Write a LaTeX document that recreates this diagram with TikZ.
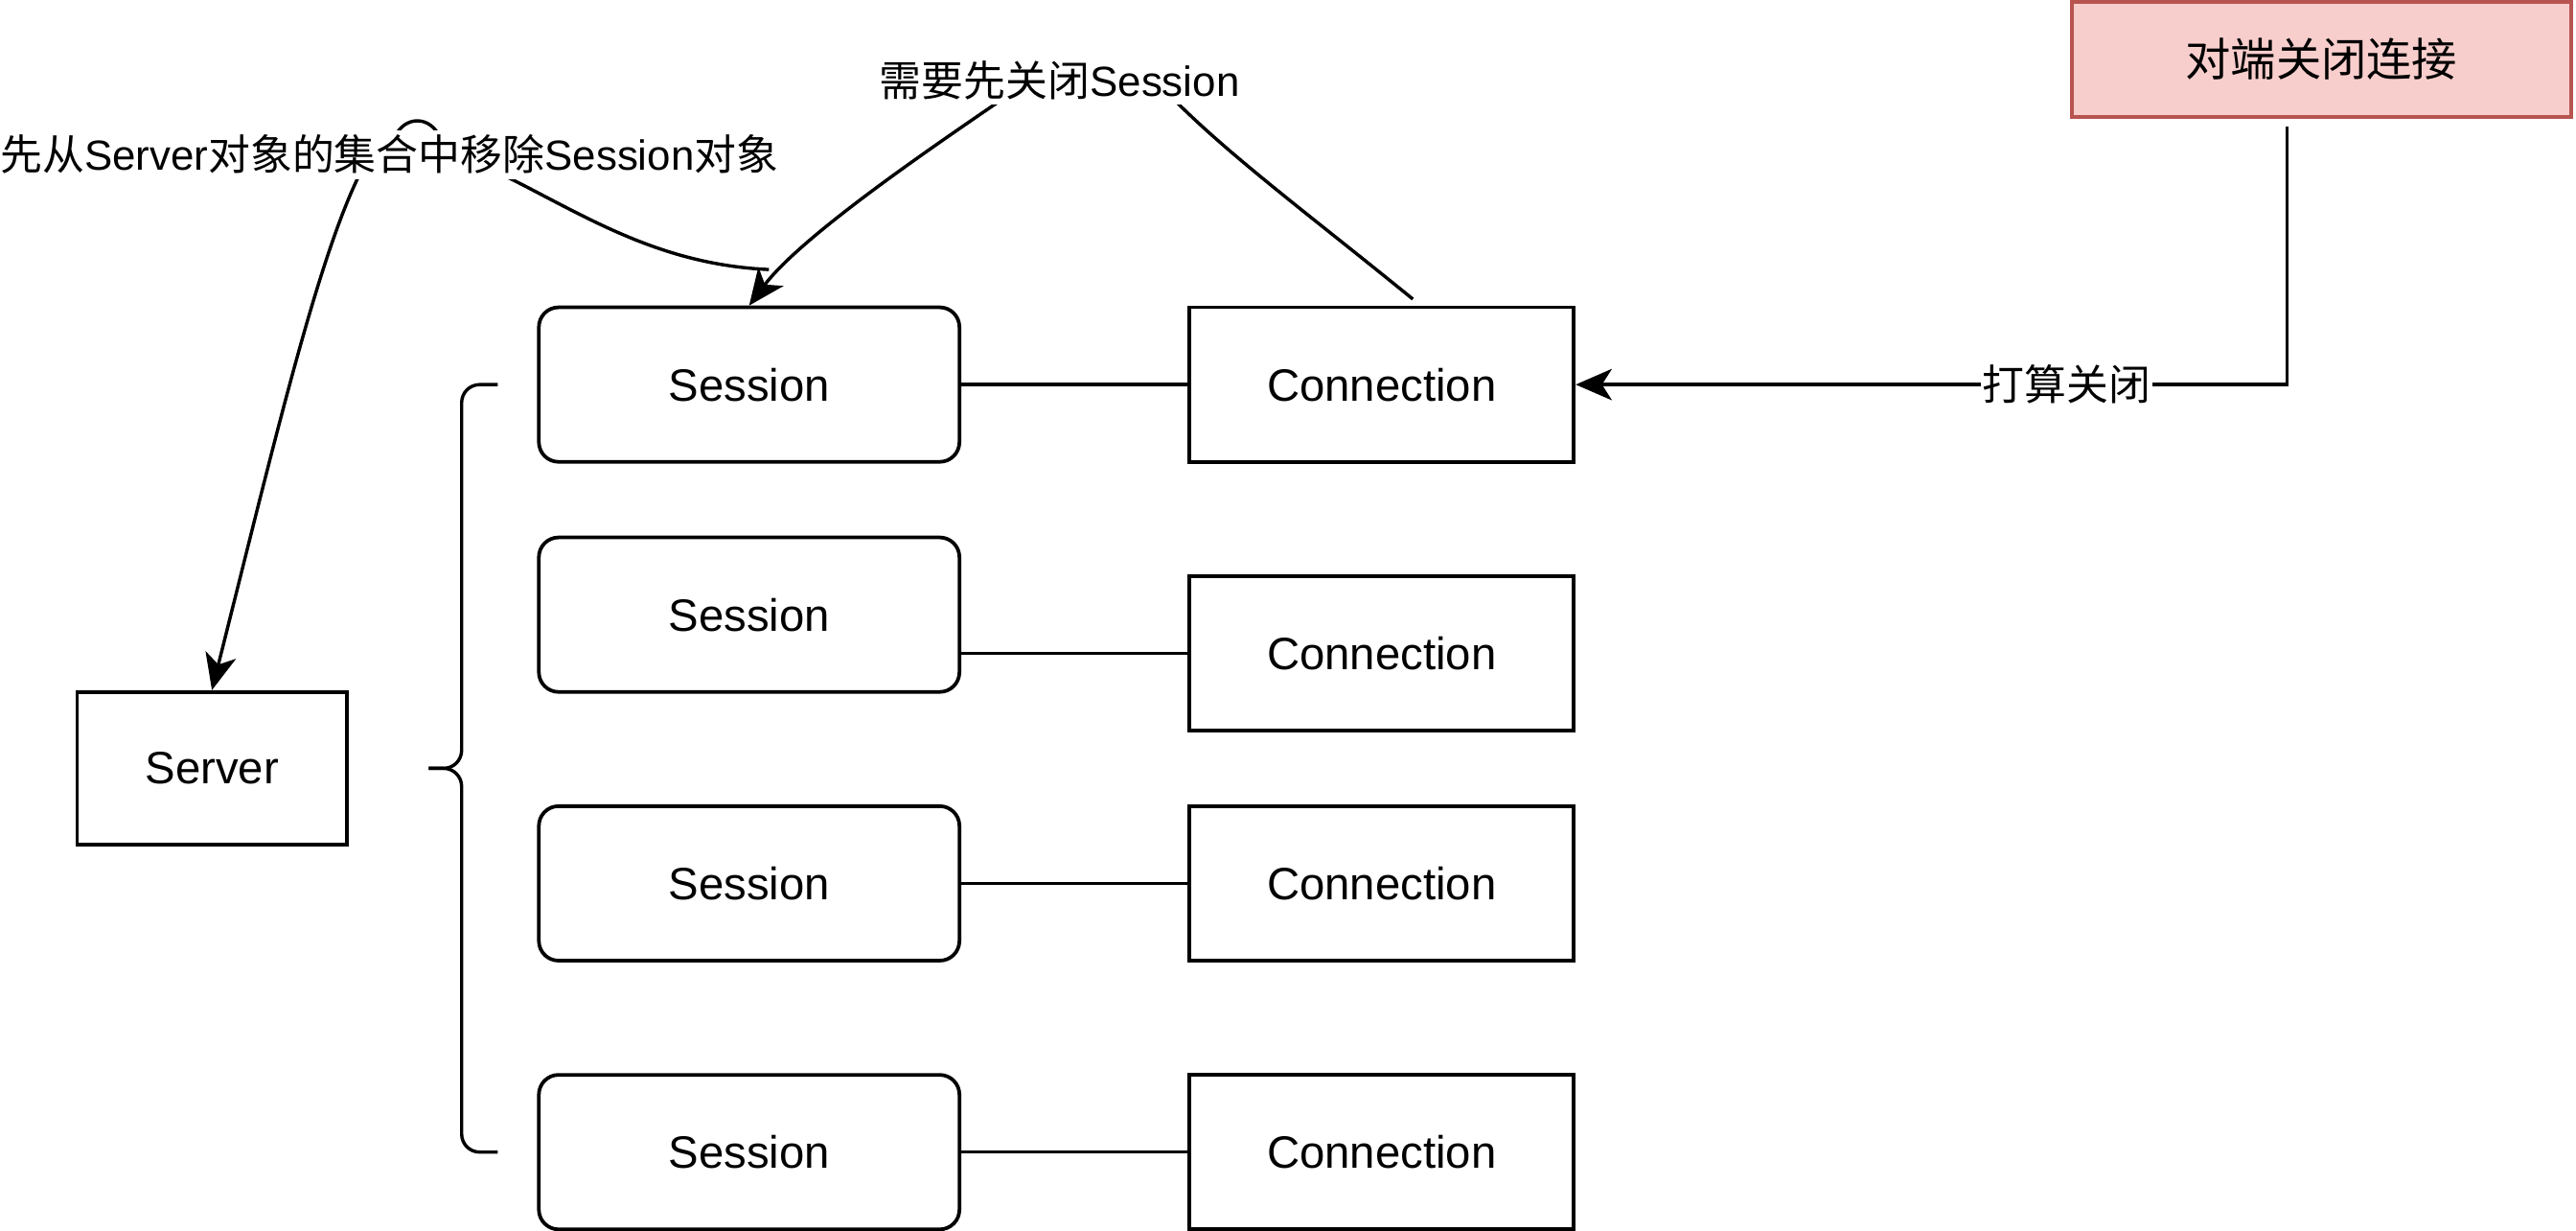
\documentclass[tikz,border=0pt]{standalone}
\usepackage{fontspec}
\setmainfont{Liberation Sans}
\newfontfamily\cjk{Noto Sans CJK SC}
\newcommand\zh[1]{{\cjk #1}}
\usetikzlibrary{arrows.meta, positioning}
\definecolor{peerfill}{HTML}{F8CECC}
\definecolor{peerline}{HTML}{B85450}

\begin{document}
\begin{tikzpicture}[x=1pt, y=-1pt,
    every node/.style={font=\fontsize{27.6}{33}\selectfont},
    sess/.style={draw, line width=2.2pt, rounded corners=12pt, minimum width=256pt, minimum height=94pt, inner sep=0pt},
    conn/.style={draw, line width=2.2pt, minimum width=234pt, minimum height=94pt, inner sep=0pt},
    lbl/.style={fill=white, inner xsep=1pt, inner ysep=3pt, font=\fontsize{25.6}{30}\selectfont},
    link/.style={line width=2pt},
    arr/.style={link, -{Stealth[length=22pt, width=19pt, inset=6pt]}}]
  % Sitzungen, Verbindungen
    \useasboundingbox (0,0) rectangle (1568,749);
    \def\br{11pt}
    \coordinate(rmv) at (468,164);
    \coordinate(c1top) at (860,182);
    \coordinate(peerout) at (1392,77);
    \coordinate(bt) at (303,234);
    \coordinate(bb) at (303,701);
    \coordinate(bk) at (281,467.5);
    \coordinate(bm) at (261,467.5);

    \node[conn, minimum width=164pt, minimum height=93pt] (server) at (129,467.5) {Server};

    \node[sess] (s1) at (456,234) {Session};
    \node[sess] (s2) at (456,374) {Session};
    \node[sess] (s3) at (456,537.5) {Session};
    \node[sess] (s4) at (456,701) {Session};

    \node[conn] (c1) at (841,234) {Connection};
    \node[conn] (c2) at (841,397.5) {Connection};
    \node[conn] (c3) at (841,537.5) {Connection};
    \node[conn] (c4) at (841,701) {Connection};

    \node[conn, minimum width=304pt, minimum height=70pt, fill=peerfill, draw=peerline] (peer) at (1413,36) {\zh{对端关闭连接}};

    \draw[link](s1.east) -- (c1.west);
    \draw[link](c2.west -| s2.east) -- (c2.west);
    \draw[link](s3.east) -- (c3.west);
    \draw[link](s4.east) -- (c4.west);

    \draw[link, rounded corners=\br](bt) -| (bk) -- (bm);
    \draw[link, rounded corners=\br](bb) -| (bk) -- (bm);

    \draw[arr](peerout) |- (c1.east);
    \draw[arr](c1top) .. controls (790,125) and (735,85) .. (700,45)
      .. controls (688,32) and (642,36) .. (625,50)
      .. controls (600,68) and (492,138) .. (s1.north);
    \draw[arr](rmv) .. controls (380,160) and (330,110) .. (262,88)
      .. controls (245,80) and (228,86) .. (222,100)
      .. controls (195,150) and (168,265) .. (server.north);
    \draw[link](240,84) .. controls (246,70) and (262,70) .. (268,84);

    \node[lbl] (rmvlbl) at (237,94) {\zh{先从}Server\zh{对象的集合中移除}Session\zh{对象}};
    \node[lbl] (closelbl) at (645,49) {\zh{需要先关闭}Session};
    \node[lbl] (peerlbl) at (1258,234) {\zh{打算关闭}};
  \end{tikzpicture}
\end{document}
